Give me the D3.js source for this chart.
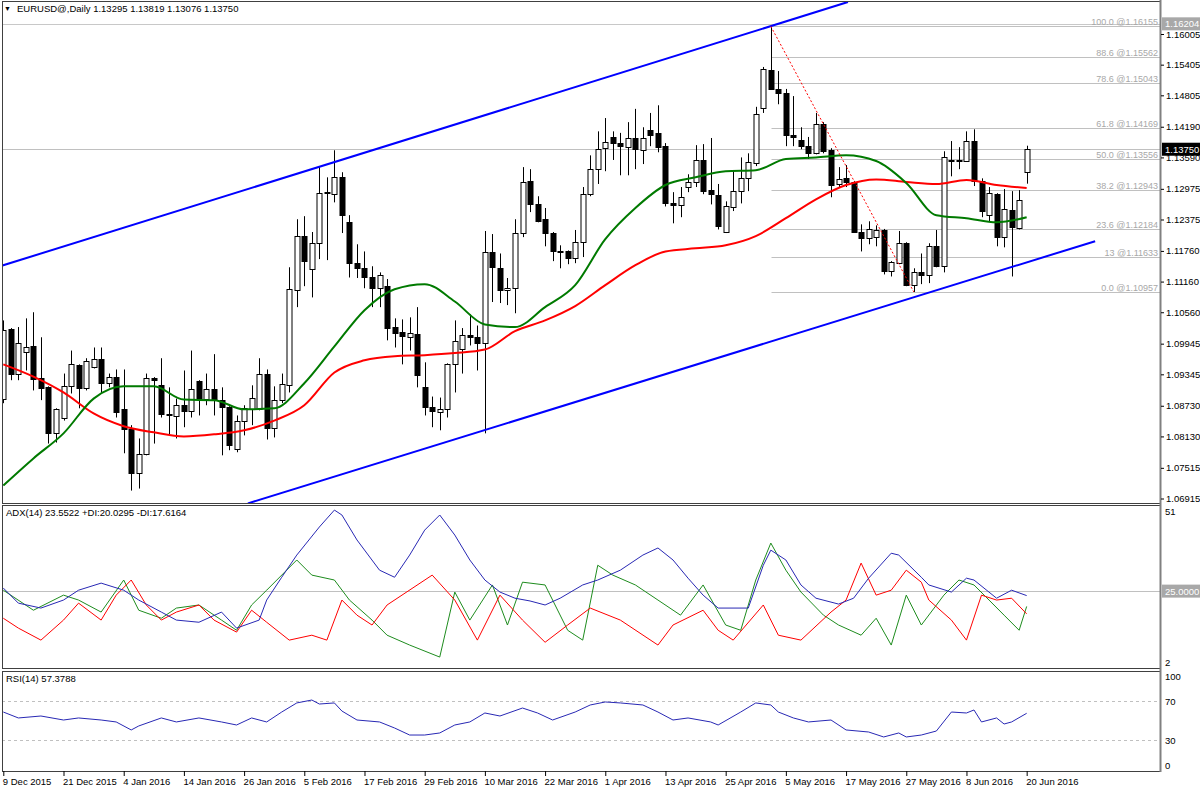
<!DOCTYPE html>
<html>
<head>
<meta charset="utf-8">
<script src="https://cdn.jsdelivr.net/npm/d3@7/dist/d3.min.js"></script>
<style>
body { margin: 0; background: #fff; }
svg text { font-family: "Liberation Sans", Arial, sans-serif; }
</style>
</head>
<body>
<svg id="chart" width="1200" height="790"></svg>
<script>
// daily EURUSD candles, bar 0 = 9 Dec 2015 ... bar 136 = 20 Jun 2016
const opens = [1.0887,1.1023,1.0936,1.0979,1.0989,1.0927,1.0909,1.0819,1.0850,1.0911,1.0952,1.0907,1.0948,1.0964,1.0917,1.0929,1.0866,1.0827,1.0742,1.0778,
  1.0927,1.0913,1.0856,1.0852,1.0874,1.0862,1.0921,1.0887,1.0905,1.0885,1.0870,1.0788,1.0844,1.0866,1.0866,1.0936,1.0829,1.0884,1.0913,1.1099,
  1.1205,1.1140,1.1191,1.1289,1.1287,1.1320,1.1232,1.1152,1.1142,1.1124,1.1103,1.1107,1.1027,1.1017,1.1007,1.1013,1.0909,1.0870,1.0860,1.0866,
  1.0954,1.0985,1.1011,1.1007,1.0995,1.1173,1.1142,1.1099,1.1103,1.1211,1.1313,1.1267,1.1238,1.1211,1.1175,1.1175,1.1162,1.1193,1.1287,1.1336,
  1.1377,1.1399,1.1387,1.1379,1.1397,1.1373,1.1412,1.1407,1.1381,1.1269,1.1265,1.1301,1.1311,1.1354,1.1295,1.1285,1.1213,1.1262,1.1293,1.1318,
  1.1348,1.1456,1.1530,1.1493,1.1485,1.1403,1.1393,1.1381,1.1367,1.1424,1.1373,1.1307,1.1318,1.1311,1.1213,1.1201,1.1203,1.1217,1.1136,1.1152,
  1.1191,1.1109,1.1134,1.1128,1.1185,1.1146,1.1352,1.1352,1.1352,1.1391,1.1313,1.1246,1.1287,1.1203,1.1256,1.1220,1.13295];
const highs = [1.1040,1.1025,1.1027,1.1044,1.1056,1.1007,1.0911,1.0868,1.0936,1.0981,1.0954,1.0966,1.0987,1.0987,1.0936,1.0944,1.0944,1.0835,1.0809,1.0936,
  1.0929,1.0966,1.0909,1.0887,1.0942,1.0981,1.0923,1.0936,1.0974,1.0909,1.0872,1.0854,1.0874,1.0913,1.0966,1.0944,1.0911,1.0936,1.1144,1.1238,
  1.1244,1.1213,1.1342,1.1320,1.1373,1.1330,1.1246,1.1189,1.1175,1.1146,1.1134,1.1121,1.1044,1.1042,1.1046,1.1066,1.0958,1.0891,1.0889,1.0956,
  1.1040,1.1025,1.1052,1.1030,1.1215,1.1209,1.1171,1.1123,1.1238,1.1340,1.1336,1.1283,1.1260,1.1213,1.1187,1.1177,1.1217,1.1301,1.1363,1.1410,
  1.1436,1.1410,1.1407,1.1428,1.1454,1.1418,1.1446,1.1461,1.1387,1.1291,1.1301,1.1326,1.1383,1.1385,1.1397,1.1307,1.1273,1.1332,1.1359,1.1367,
  1.1458,1.1536,1.16155,1.1528,1.1493,1.1479,1.1418,1.1399,1.1446,1.1428,1.1377,1.1340,1.1344,1.1313,1.1228,1.1234,1.1226,1.1219,1.1156,1.1215,
  1.1193,1.1142,1.1171,1.1191,1.1217,1.1371,1.1391,1.1379,1.1410,1.1414,1.1318,1.1301,1.1289,1.1297,1.1293,1.1295,1.13819];
const lows = [1.0878,1.0923,1.0923,1.0942,1.0903,1.0884,1.0799,1.0801,1.0844,1.0897,1.0868,1.0903,1.0946,1.0897,1.0909,1.0850,1.0780,1.0707,1.0711,1.0776,
  1.0799,1.0850,1.0815,1.0809,1.0831,1.0850,1.0854,1.0874,1.0854,1.0776,1.0786,1.0782,1.0815,1.0835,1.0864,1.0807,1.0811,1.0878,1.0899,1.1066,
  1.1107,1.1085,1.1160,1.1158,1.1271,1.1211,1.1124,1.1123,1.1103,1.1066,1.1066,1.1001,1.0987,1.0954,1.0981,1.0909,1.0854,1.0831,1.0825,1.0850,
  1.0899,1.0936,1.0991,1.0942,1.0819,1.1076,1.1074,1.1070,1.1054,1.1203,1.1252,1.1232,1.1185,1.1156,1.1142,1.1150,1.1152,1.1164,1.1283,1.1307,
  1.1332,1.1354,1.1324,1.1324,1.1336,1.1346,1.1381,1.1369,1.1263,1.1230,1.1242,1.1291,1.1301,1.1287,1.1267,1.1218,1.1211,1.1254,1.1269,1.1293,
  1.1342,1.1446,1.1493,1.1463,1.1381,1.1381,1.1375,1.1356,1.1365,1.1367,1.1281,1.1301,1.1301,1.1213,1.1175,1.1189,1.1185,1.1130,1.1126,1.1150,
  1.1107,1.10957,1.1111,1.1113,1.1144,1.1134,1.1322,1.1336,1.1350,1.1303,1.1242,1.1234,1.1185,1.1183,1.1126,1.1218,1.13076];
const closes = [1.1021,1.0936,1.0995,1.0987,1.0925,1.0907,1.0819,1.0866,1.0911,1.0954,1.0907,1.0960,1.0964,1.0917,1.0929,1.0860,1.0827,1.0742,1.0778,1.0927,
  1.0923,1.0856,1.0855,1.0874,1.0862,1.0905,1.0887,1.0905,1.0887,1.0870,1.0796,1.0844,1.0868,1.0889,1.0936,1.0829,1.0884,1.0915,1.1101,1.1205,
  1.1156,1.1191,1.1289,1.1291,1.1320,1.1246,1.1152,1.1142,1.1124,1.1103,1.1128,1.1025,1.1015,1.1009,1.1015,1.0933,1.0870,1.0862,1.0866,1.0954,
  1.0999,1.1011,1.1007,1.0995,1.1173,1.1144,1.1099,1.1103,1.1211,1.1311,1.1267,1.1234,1.1211,1.1175,1.1174,1.1162,1.1193,1.1287,1.1336,1.1375,
  1.1389,1.1387,1.1381,1.1397,1.1375,1.1397,1.1403,1.1379,1.1269,1.1265,1.1281,1.1311,1.1354,1.1293,1.1287,1.1224,1.1263,1.1293,1.1318,1.1350,
  1.1444,1.1532,1.1493,1.1485,1.1403,1.1399,1.1381,1.1367,1.1424,1.1371,1.1305,1.1316,1.1311,1.1213,1.1201,1.1218,1.1217,1.1136,1.1154,1.1191,
  1.1109,1.1134,1.1128,1.1185,1.1146,1.1359,1.1353,1.1353,1.1391,1.1313,1.1254,1.1289,1.1203,1.1258,1.1222,1.1275,1.13750];

// moving averages read every 4 bars
const maBars = [0,4,8,12,16,20,24,28,32,36,40,44,48,52,56,60,64,68,72,76,80,84,88,92,96,100,104,108,112,116,120,124,128,132,136];
const maGreen = [1.0717,1.0770,1.0819,1.0887,1.0911,1.0911,1.0885,1.0884,1.0866,1.0868,1.0917,1.0989,1.1060,1.1101,1.1111,1.1077,1.1032,1.1027,
  1.1066,1.1109,1.1199,1.1260,1.1305,1.1320,1.1332,1.1334,1.1356,1.1359,1.1363,1.1352,1.1309,1.1246,1.1240,1.1232,1.1242];
const maRed = [1.0954,1.0930,1.0899,1.0858,1.0833,1.0821,1.0813,1.0817,1.0825,1.0844,1.0874,1.0938,1.0962,1.0970,1.0972,1.0976,1.0983,1.1019,
  1.1040,1.1068,1.1109,1.1148,1.1175,1.1181,1.1187,1.1205,1.1240,1.1277,1.1305,1.1316,1.1311,1.1307,1.1315,1.1305,1.1299];

// ADX(14), +DI, -DI as [bar, value]
const adxLine = [[0,26.0],[2,21.1],[5,19.5],[8,22.1],[10,25.3],[13,27.6],[16,25.3],[18,22.1],[21,18.2],[23,15.6],[26,14.9],[29,18.2],[31,13.0],
  [34,15.6],[35,22.1],[37,29.5],[39,36.7],[42,45.8],[44,51.3],[45,49.7],[47,41.6],[50,31.8],[52,29.5],[54,36.7],[56,44.8],[58,49.7],[60,43.2],
  [62,35.1],[64,28.6],[66,24.7],[68,22.7],[70,21.8],[72,20.5],[74,22.7],[77,27.0],[79,28.6],[82,31.8],[85,36.7],[87,39.0],[89,35.1],[91,29.2],
  [93,23.7],[95,19.5],[99,19.5],[101,33.4],[102,38.3],[104,35.1],[106,27.0],[108,22.7],[111,20.8],[113,22.7],[115,29.2],[118,37.3],[119,36.7],
  [122,29.5],[123,27.0],[126,24.7],[128,29.2],[129,28.6],[132,22.7],[134,25.3],[136,23.55]];
const plusDI = [[0,25.3],[4,18.8],[8,23.7],[10,22.1],[13,18.2],[16,28.6],[18,18.8],[21,16.2],[23,19.5],[26,20.5],[29,15.6],[31,12.3],[33,20.5],
  [35,25.3],[39,35.1],[41,30.2],[44,28.6],[46,22.1],[49,15.6],[51,10.7],[54,7.5],[58,3.6],[60,24.7],[62,15.6],[65,27.0],[67,14.0],[69,27.9],
  [72,27.0],[75,12.3],[77,9.1],[79,33.4],[81,30.2],[84,27.0],[87,22.1],[90,17.2],[93,27.0],[96,14.0],[98,12.3],[100,28.6],[102,40.6],[104,31.8],
  [106,24.7],[109,17.2],[111,14.0],[114,10.7],[116,16.2],[118,7.5],[120,23.7],[122,14.0],[125,23.7],[127,28.6],[129,27.0],[131,22.1],[133,17.2],
  [135,12.3],[136,20.03]];
const minusDI = [[0,16.2],[2,13.0],[5,9.1],[8,15.6],[10,21.1],[13,15.6],[15,23.7],[17,28.6],[19,20.5],[21,15.6],[23,18.2],[26,20.5],[28,15.6],
  [31,11.7],[33,18.8],[35,14.9],[38,9.1],[41,10.7],[43,9.1],[45,22.1],[47,17.2],[49,14.0],[51,20.5],[57,30.2],[60,22.1],[63,9.1],[66,23.7],
  [69,15.6],[72,8.4],[75,14.0],[78,19.5],[82,15.6],[87,7.5],[89,14.0],[93,18.8],[95,12.3],[97,9.1],[101,20.5],[103,10.7],[106,9.1],[110,18.2],
  [112,22.1],[114,34.1],[116,23.7],[118,25.3],[120,31.8],[122,27.9],[123,22.1],[126,15.6],[128,9.1],[130,23.7],[132,22.1],[134,22.7],[136,17.62]];

// RSI(14) as [bar, value]
const rsiLine = [[0,58.7],[2,52.6],[5,54.6],[8,50.5],[10,52.6],[13,50.5],[15,48.5],[17,40.3],[18,44.4],[21,52.6],[23,48.5],[26,52.6],[29,48.5],
  [31,45.4],[33,52.6],[35,48.5],[37,58.7],[39,68.0],[41,71.0],[42,66.9],[44,68.0],[45,59.7],[47,50.5],[50,48.5],[52,42.3],[54,35.1],[56,35.1],
  [58,37.2],[60,45.4],[62,48.5],[64,57.7],[66,54.6],[69,62.8],[71,57.7],[73,50.5],[76,58.7],[78,65.9],[80,69.0],[82,68.0],[85,65.9],[87,58.7],
  [89,50.5],[91,52.6],[94,48.5],[95,45.4],[98,58.7],[100,68.0],[102,65.9],[103,58.7],[105,52.6],[107,48.5],[110,50.5],[112,40.3],[115,38.2],
  [117,33.1],[119,37.2],[120,33.1],[122,35.1],[124,39.2],[126,58.7],[128,57.7],[129,60.8],[130,48.5],[132,52.6],[133,46.4],[134,48.5],[136,57.38]];

// fibonacci retracement from bar 102 high to bar 121 low
const fibLabels = ['100.0','88.6','78.6','61.8','50.0','38.2','23.6','13','0.0'];
const fibPrices = [1.16155,1.15562,1.15043,1.14169,1.13556,1.12943,1.12184,1.11633,1.10957];
const fibTrend = [[102,1.16155],[121,1.10957]];

// channel trendlines [bar, price]
const upperChannel = [[-0.44,1.1146],[112.25,1.1663]];
const lowerChannel = [[32.5,1.0682],[145.1,1.1195]];

const priceTicks = [1.16005,1.15405,1.14805,1.14190,1.13590,1.12975,1.12375,1.11760,1.11160,1.10560,1.09945,1.09345,1.08730,1.08130,1.07515,1.06915];
const dateTickBars = [0,8,16,24,32,40,48,56,64,72,80,88,96,104,112,120,128,136];
const dateLabels = ['9 Dec 2015','21 Dec 2015','4 Jan 2016','14 Jan 2016','26 Jan 2016','5 Feb 2016','17 Feb 2016','29 Feb 2016','10 Mar 2016',
  '22 Mar 2016','1 Apr 2016','13 Apr 2016','25 Apr 2016','5 May 2016','17 May 2016','27 May 2016','8 Jun 2016','20 Jun 2016'];

const svg = d3.select('#chart');
const left = 2, right = 1160;
const panels = {
    main: { top: 1, bottom: 503 },
    adx: { top: 505, bottom: 668 },
    rsi: { top: 671, bottom: 771 }
};

const x = d3.scaleLinear().domain([-0.44, 153.72]).range([0, right]);
const y = d3.scaleLinear().domain([1.06915, 1.16005]).range([498.5, 34]);
const yAdx = d3.scaleLinear().domain([2, 51]).range([662, 511]);
const yRsi = d3.scaleLinear().domain([0, 100]).range([769.25, 671.75]);

const px = i => Math.round(x(i)) + 0.5;

// clip paths per panel
const defs = svg.append('defs');
Object.keys(panels).forEach(k => {
    defs.append('clipPath').attr('id', 'clip-' + k)
        .append('rect')
        .attr('x', left).attr('y', panels[k].top)
        .attr('width', right - left).attr('height', panels[k].bottom - panels[k].top);
});

// ---------- main panel ----------
const main = svg.append('g').attr('clip-path', 'url(#clip-main)');

// high-of-window line and bid line
main.append('line')
    .attr('x1', left).attr('x2', right)
    .attr('y1', Math.round(y(1.16204)) + 0.5).attr('y2', Math.round(y(1.16204)) + 0.5)
    .attr('stroke', '#c8c8c8');
main.append('line')
    .attr('x1', left).attr('x2', right)
    .attr('y1', Math.round(y(closes[closes.length - 1])) + 0.5).attr('y2', Math.round(y(closes[closes.length - 1])) + 0.5)
    .attr('stroke', '#c0c0c0');

// fibo levels
fibPrices.forEach((p, i) => {
    let yy = Math.round(y(p)) + 0.5;
    main.append('line')
        .attr('x1', px(fibTrend[0][0])).attr('x2', right)
        .attr('y1', yy).attr('y2', yy)
        .attr('stroke', '#c0c0c0');
    main.append('text')
        .attr('x', right - 2).attr('y', yy - 2)
        .attr('text-anchor', 'end')
        .attr('font-size', '9px')
        .attr('fill', '#a8a8a8')
        .text(fibLabels[i] + ' @' + p.toFixed(5));
});

// candles
const candles = main.append('g');
closes.forEach((c, i) => {
    let o = opens[i];
    let xx = px(i);
    candles.append('line')
        .attr('x1', xx).attr('x2', xx)
        .attr('y1', y(highs[i])).attr('y2', y(lows[i]))
        .attr('stroke', '#000');
    let top = Math.round(y(Math.max(o, c)));
    let h = Math.max(1, Math.round(y(Math.min(o, c))) - top);
    candles.append('rect')
        .attr('x', xx - 2.5).attr('y', top + 0.5)
        .attr('width', 5).attr('height', h)
        .attr('fill', c >= o ? '#fff' : '#000')
        .attr('stroke', '#000');
});

// moving averages
const maLine = d3.line()
    .x((d, i) => x(maBars[i]))
    .y(d => y(d))
    .curve(d3.curveMonotoneX);
main.append('path').datum(maRed)
    .attr('d', maLine).attr('fill', 'none')
    .attr('stroke', '#ff0000').attr('stroke-width', 2);
main.append('path').datum(maGreen)
    .attr('d', maLine).attr('fill', 'none')
    .attr('stroke', '#007a00').attr('stroke-width', 2);

// trend lines
const trend = d3.line().x(d => x(d[0])).y(d => y(d[1]));
[upperChannel, lowerChannel].forEach(ch => {
    main.append('path').datum(ch)
        .attr('d', trend).attr('fill', 'none')
        .attr('stroke', '#0000ff').attr('stroke-width', 2);
});
main.append('path').datum(fibTrend)
    .attr('d', trend).attr('fill', 'none')
    .attr('stroke', '#ff0000').attr('stroke-dasharray', '2,2');

// ---------- ADX panel ----------
const adx = svg.append('g').attr('clip-path', 'url(#clip-adx)');
adx.append('line')
    .attr('x1', left).attr('x2', right)
    .attr('y1', Math.round(yAdx(25)) + 0.5).attr('y2', Math.round(yAdx(25)) + 0.5)
    .attr('stroke', '#c0c0c0');
const adxPath = d3.line().x(d => x(d[0])).y(d => yAdx(d[1]));
[[plusDI, '#1e8c1e'], [minusDI, '#ff0000'], [adxLine, '#2828b4']].forEach(s => {
    adx.append('path').datum(s[0])
        .attr('d', adxPath).attr('fill', 'none')
        .attr('stroke', s[1]).attr('stroke-width', 1);
});

// ---------- RSI panel ----------
const rsi = svg.append('g').attr('clip-path', 'url(#clip-rsi)');
[70, 30].forEach(v => {
    rsi.append('line')
        .attr('x1', left).attr('x2', right)
        .attr('y1', Math.round(yRsi(v)) + 0.5).attr('y2', Math.round(yRsi(v)) + 0.5)
        .attr('stroke', '#c0c0c0').attr('stroke-dasharray', '3,3');
});
rsi.append('path').datum(rsiLine)
    .attr('d', d3.line().x(d => x(d[0])).y(d => yRsi(d[1])))
    .attr('fill', 'none').attr('stroke', '#2828b4').attr('stroke-width', 1);

// ---------- frames ----------
Object.keys(panels).forEach(k => {
    svg.append('rect')
        .attr('x', left + 0.5).attr('y', panels[k].top + 0.5)
        .attr('width', right - left).attr('height', panels[k].bottom - panels[k].top)
        .attr('fill', 'none').attr('stroke', '#404040');
});
svg.append('line')
    .attr('x1', right + 0.5).attr('x2', right + 0.5)
    .attr('y1', 0).attr('y2', panels.rsi.bottom + 1)
    .attr('stroke', '#808080').attr('stroke-width', 2);

// ---------- axes ----------
function styleAxis (g) {
    g.select('.domain').remove();
    g.selectAll('line').attr('stroke', '#000');
    g.selectAll('text').attr('font-size', '9.5px').attr('fill', '#000')
        .attr('font-family', '"Liberation Sans", Arial, sans-serif');
}

svg.append('g')
    .attr('transform', 'translate(' + (right + 1) + ',0)')
    .call(d3.axisRight(y).tickValues(priceTicks).tickSize(3).tickPadding(2).tickFormat(d3.format('.5f')))
    .call(styleAxis);

svg.append('g')
    .attr('transform', 'translate(' + (right + 1) + ',0)')
    .call(d3.axisRight(yAdx).tickValues([51, 2]).tickSize(0).tickPadding(4).tickFormat(d3.format('d')))
    .call(styleAxis);

svg.append('g')
    .attr('transform', 'translate(' + (right + 1) + ',0)')
    .call(d3.axisRight(yRsi).tickValues([100, 70, 30, 0]).tickSize(0).tickPadding(4).tickFormat(d3.format('d')))
    .call(styleAxis)
    .selectAll('.tick text')
    .attr('dy', d => d == 100 ? '0.85em' : d == 0 ? '-0.1em' : '0.32em');

svg.append('g')
    .attr('transform', 'translate(0,' + panels.rsi.bottom + ')')
    .call(d3.axisBottom(x).tickValues(dateTickBars).tickSize(5).tickPadding(2)
        .tickFormat((d, i) => dateLabels[i]))
    .call(styleAxis)
    .selectAll('.tick text').attr('text-anchor', 'start').attr('dx', -1);

// highlighted axis labels
function tagLabel (yy, txt, bg, fg) {
    svg.append('rect')
        .attr('x', right + 2).attr('y', yy - 6.5)
        .attr('width', 38).attr('height', 13)
        .attr('fill', bg);
    svg.append('text')
        .attr('x', right + 5).attr('y', yy + 3.5)
        .attr('font-size', '9.5px').attr('fill', fg)
        .text(txt);
}
tagLabel(y(1.16204), '1.16204', '#a8a8a8', '#fff');
tagLabel(y(closes[closes.length - 1]), closes[closes.length - 1].toFixed(5), '#000', '#fff');
tagLabel(yAdx(25), '25.0000', '#a8a8a8', '#fff');

// ---------- titles ----------
svg.append('text').attr('x', 4).attr('y', 11)
    .attr('font-size', '7px').attr('fill', '#000').text('▼');
svg.append('text').attr('x', 17).attr('y', 12)
    .attr('font-size', '9.5px').attr('fill', '#000')
    .text('EURUSD@,Daily  ' + [opens, highs, lows, closes].map(a => a[a.length - 1].toFixed(5)).join(' '));
svg.append('text').attr('x', 6).attr('y', panels.adx.top + 11)
    .attr('font-size', '9.5px').attr('fill', '#000')
    .text('ADX(14) 23.5522 +DI:20.0295 -DI:17.6164');
svg.append('text').attr('x', 6).attr('y', panels.rsi.top + 11)
    .attr('font-size', '9.5px').attr('fill', '#000')
    .text('RSI(14) 57.3788');
</script>
</body>
</html>
